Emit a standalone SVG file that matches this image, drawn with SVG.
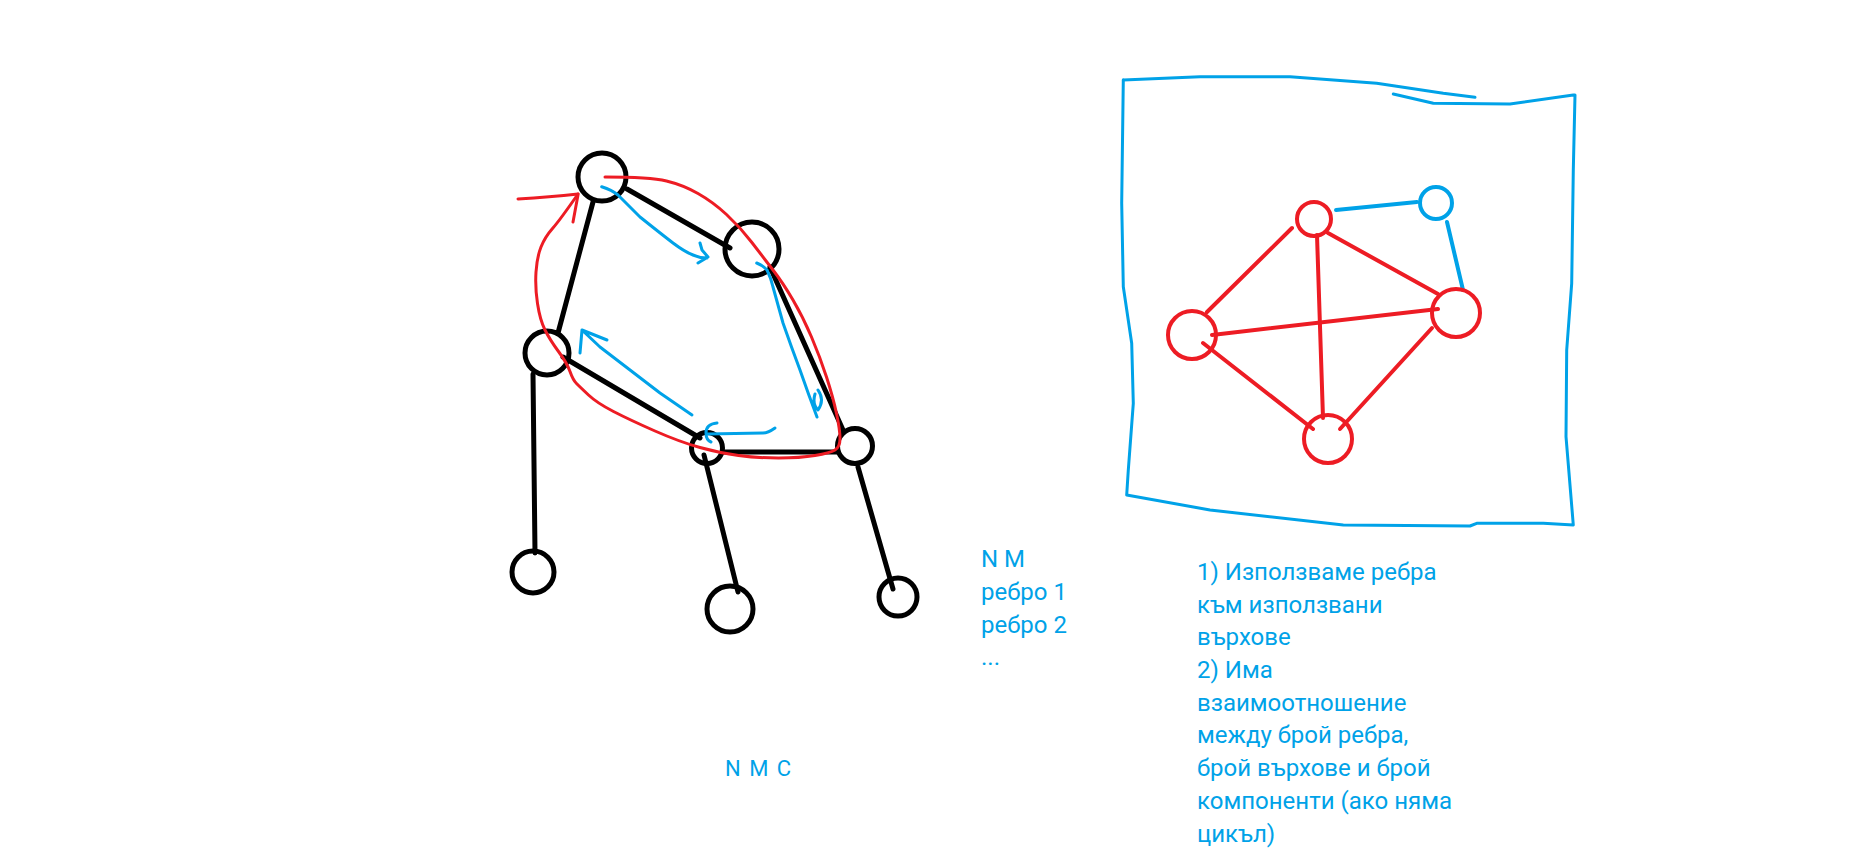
<svg xmlns="http://www.w3.org/2000/svg" width="1855" height="864" viewBox="0 0 1855 864">
<style>
.bk{fill:none;stroke:#000;stroke-width:5}
.bl{stroke:#000;stroke-width:5;stroke-linecap:round}
.rd{fill:none;stroke:#ED1C24;stroke-width:3;stroke-linejoin:round;stroke-linecap:round}
.bu{fill:none;stroke:#00A2E8;stroke-width:3;stroke-linejoin:round;stroke-linecap:round}
.rc{fill:none;stroke:#ED1C24;stroke-width:4}
.rl{stroke:#ED1C24;stroke-width:4;stroke-linecap:round}
.uc{fill:none;stroke:#00A2E8;stroke-width:4}
.ul{stroke:#00A2E8;stroke-width:4;stroke-linecap:round}
.tx{font-family:Roboto,"Noto Sans",sans-serif;font-size:24px;fill:#00A2E8}
</style>
<rect width="1855" height="864" fill="#fff"/>
<g id="connectors">
<line class="bl" x1="627" y1="189" x2="730" y2="248"/>
<line class="bl" x1="593" y1="202" x2="558" y2="333"/>
<line class="bl" x1="563" y1="357" x2="700" y2="438"/>
<line class="bl" x1="770" y1="267" x2="843" y2="430"/>
<line class="bl" x1="723" y1="452" x2="837" y2="452"/>
<line class="bl" x1="533" y1="374" x2="535" y2="553"/>
<line class="bl" x1="704" y1="455" x2="738" y2="592"/>
<line class="bl" x1="858" y1="467" x2="893" y2="589"/>
<line class="rl" x1="1292" y1="228" x2="1207" y2="312"/>
<line class="rl" x1="1317" y1="235" x2="1323" y2="418"/>
<line class="rl" x1="1328" y1="233" x2="1438" y2="294"/>
<line class="rl" x1="1212" y1="335" x2="1438" y2="309"/>
<line class="rl" x1="1203" y1="343" x2="1313" y2="429"/>
<line class="rl" x1="1432" y1="328" x2="1340" y2="429"/>
<line class="ul" x1="1336" y1="210" x2="1417" y2="202"/>
<line class="ul" x1="1447" y1="222" x2="1463" y2="290"/>
</g>
<g id="nodes-left">
<g id="nA"><circle class="bk" cx="602" cy="177" r="24"/></g>
<g id="nB"><circle class="bk" cx="752" cy="249" r="27"/></g>
<g id="nC"><circle class="bk" cx="547" cy="353" r="22"/></g>
<g id="nD"><circle class="bk" cx="707" cy="448" r="15.5"/></g>
<g id="nE"><circle class="bk" cx="855" cy="446" r="17.5"/></g>
<g id="nF"><circle class="bk" cx="533" cy="572" r="21"/></g>
<g id="nG"><circle class="bk" cx="730" cy="609" r="23"/></g>
<g id="nH"><circle class="bk" cx="898" cy="597" r="19"/></g>
</g>
<g id="red-walk">
<path class="rd" d="M605,177 Q650,177 666.5,181 Q683,185 698,193.5 Q713,202 726.5,214.5 Q740,227 751.5,242 Q763,257 773,270 Q783,283 793,300 Q803,317 811.5,337 Q820,357 826.5,377 Q833,397 836.5,413.5 Q840,430 840,438.5 Q840,447 835,450 Q830,453 815,455.5 Q800,458 778.5,458 Q757,458 738.5,455.5 Q720,453 700,447.5 Q680,442 655,431 Q630,420 613.5,411.5 Q597,403 588.5,395 Q580,387 576.5,383.5 Q573,380 570,371.5 Q567,363 558.5,351.5 Q550,340 545,330 Q540,320 537.5,303.5 Q535,287 536,272 Q537,257 541,247 Q545,237 552.5,228.5 Q560,220 578,194"/>
<path class="rd" d="M518,199 Q550,197 578,194 M573,222 L578,195"/>
</g>
<g id="blue-arrows">
<path class="bu" d="M601.7,186.7 Q612,190 618,195 Q628,205 640,217 Q660,233 673,243 Q685,252 693,255 Q700,258 707,258 M700,243 L702,250 L708,257 L698,263"/>
<path class="bu" d="M756.7,263 Q764,266 767,270 Q771,278 773,287 Q778,305 783,323 Q791,346 800,370 Q808,393 817,417 M818,390 Q825,400 818,410 Q812,404 815,394"/>
<path class="bu" d="M775,428 Q768,433 763,433 L707,434 M717,423 Q706,424 706,433 Q706,440 711,442"/>
<path class="bu" d="M692,415 L660,393 L630,370 L600,347 L582,330 M582,330 L607,340 M582,330 L580,353"/>
</g>
<g id="frame">
<path class="bu" d="M1123.3,80 L1200,76.7 L1290,76.7 L1376.7,83.3 L1443.3,93.3 L1475,97.3"/>
<path class="bu" d="M1393.3,94 L1433.3,103.3 L1510,104 L1573.3,95 L1575,95 L1573.3,170 L1571.7,283.3 L1566.7,350 L1566,436.7 L1573.3,525 L1543.3,523.3 L1476.7,523.3 L1470,526 L1343.3,525 L1210,510 L1126.7,495 L1128.3,470 L1133.3,403.3 L1131.7,343.3 L1123.3,286.7 L1121.7,203.3 L1123.3,80"/>
</g>
<g id="nodes-right">
<g id="nP"><circle class="rc" cx="1314" cy="219" r="17"/></g>
<g id="nQ"><circle class="rc" cx="1192" cy="335" r="24"/></g>
<g id="nR"><circle class="rc" cx="1456" cy="313" r="24"/></g>
<g id="nS"><circle class="rc" cx="1328" cy="439" r="24"/></g>
<g id="nT"><circle class="uc" cx="1436" cy="203" r="16"/></g>
</g>
<g id="texts">
<text class="tx" x="981" y="567">N M</text>
<text class="tx" x="981" y="600">ребро 1</text>
<text class="tx" x="981" y="633">ребро 2</text>
<text class="tx" x="981" y="665">...</text>
<text class="tx" x="725" y="776" style="font-size:22px;letter-spacing:1.5px">N M C</text>
<text class="tx" x="1197" y="580">1) Използваме ребра</text>
<text class="tx" x="1197" y="612.5">към използвани</text>
<text class="tx" x="1197" y="645">върхове</text>
<text class="tx" x="1197" y="677.5">2) Има</text>
<text class="tx" x="1197" y="710.5">взаимоотношение</text>
<text class="tx" x="1197" y="743">между брой ребра,</text>
<text class="tx" x="1197" y="776">брой върхове и брой</text>
<text class="tx" x="1197" y="809">компоненти (ако няма</text>
<text class="tx" x="1197" y="842">цикъл)</text>
</g>
</svg>
